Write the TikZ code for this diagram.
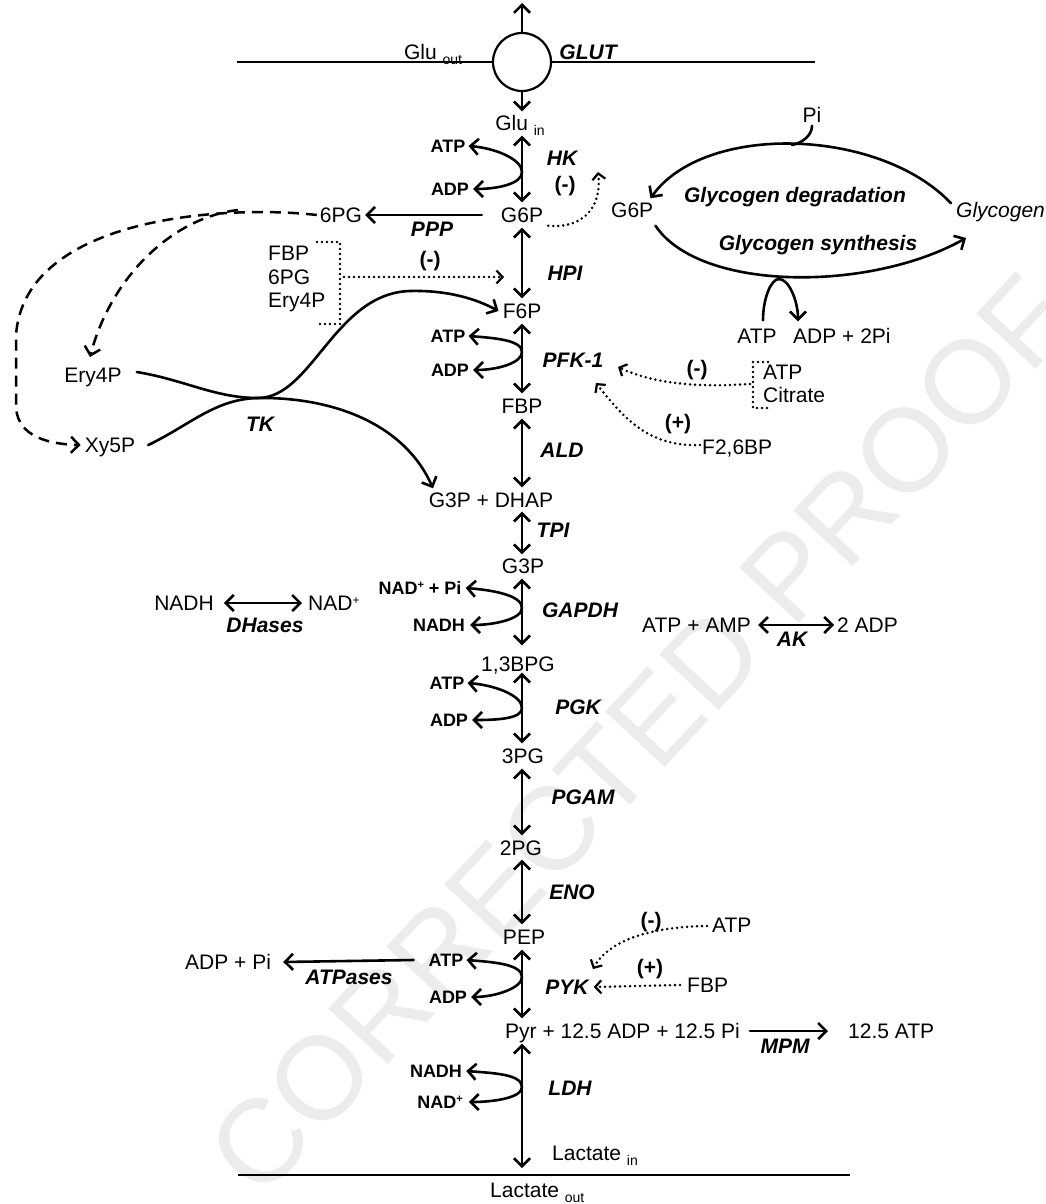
\documentclass[tikz,border=0pt]{standalone}
\usepackage{fontspec}
\setmainfont{Liberation Sans}
\usetikzlibrary{arrows.meta,calc}
\newcommand{\subtxt}[1]{\raisebox{-5pt}{\fontsize{14}{14}\selectfont #1}}
\newcommand{\suptxt}[1]{\raisebox{6pt}{\fontsize{11}{11}\selectfont #1}}
\begin{document}
\begin{tikzpicture}[x=1pt,y=-1pt,
  met/.style={inner sep=0pt,font=\fontsize{21}{24}\selectfont,text height=15pt,text depth=0pt},
  cof/.style={inner sep=0pt,font=\fontsize{18}{20}\selectfont\bfseries,text height=13pt,text depth=0pt},
  enz/.style={inner sep=0pt,font=\fontsize{21}{24}\selectfont\bfseries\itshape,text height=15pt,text depth=0pt},
  sgn/.style={inner sep=0pt,font=\fontsize{21}{24}\selectfont\bfseries,text height=15pt,text depth=0pt},
  ital/.style={inner sep=0pt,font=\fontsize{21}{24}\selectfont\itshape,text height=15pt,text depth=0pt},
  rx/.style={line width=2.6pt,line cap=round,>={Straight Barb[length=8pt,width=16pt]}},
  reg/.style={line width=2.8pt,dash pattern=on 0pt off 5pt,line cap=round,>={Straight Barb[length=6pt,width=13pt,line width=2.2pt]}},
  dsh/.style={line width=2.5pt,dash pattern=on 11pt off 7pt,>={Straight Barb[length=8pt,width=16pt]}},
  memb/.style={line width=2pt}
]
\fill[white] (0,0) rectangle (1046,1204);
\useasboundingbox (0,0) rectangle (1046,1204);
% watermark
\node[rotate=47,text=gray!15,inner sep=0pt,font=\fontsize{118}{118}\selectfont] (wm) at (640,735) {CORRECTED PROOF};

% ---------- top membrane / GLUT ----------
\coordinate (ax) at (522,0);
\coordinate (top) at (522,3);
\coordinate (memL) at (237,62);
\coordinate (memR) at (815,62);
\draw[memb] (memL) -- (memR);
\node[circle,draw,line width=2.2pt,fill=white,minimum size=58pt,inner sep=0pt] (glut) at (522,62) {};
\draw[rx,->] (glut.north) -- (top);
\node[met] (gluout) at (433,52) {Glu \subtxt{out}};
\node[enz] (glutlab) at (588,52) {GLUT};
\node[met] (gluin) at (520,123) {Glu \subtxt{in}};
\draw[rx,->] (glut.south) -- ($(gluin.north -| ax)+(0,-4)$);

% ---------- HK ----------
\node[met] (g6p) at (522,215) {G6P};
\draw[rx,<->] ($(gluin.south -| ax)+(0,5)$) -- ($(g6p.north)+(0,-5)$);
\node[enz] (hk) at (562,158) {HK};
\node[cof] (atp1) at (448,146) {ATP};
\node[cof] (adp1) at (450,189) {ADP};
\coordinate (j1) at (522,172);
\draw[rx,->] (j1) .. controls +(0,-13) and +(26,2) .. ($(atp1.east)+(3,0)$);
\draw[rx,->] (j1) .. controls +(0,12) and +(24,0) .. ($(adp1.east)+(4,0)$);
\node[sgn] (inh1) at (565,184) {(-)};
\coordinate (hkin) at (598,172);
\draw[reg,->] ($(g6p.south east)+(5,3)$) .. controls (585,229) and (602,205) .. (hkin);

% ---------- PPP ----------
\node[met] (pg6) at (341,215) {6PG};
\draw[rx,->] ($(g6p.west)+(-19,0)$) -- ($(pg6.east)+(3,0)$);
\node[enz] (ppp) at (432,229) {PPP};

% ---------- TK side ----------
\node[met] (ery4p) at (93,375) {Ery4P};
\node[met] (xy5p) at (110,445) {Xy5P};
\coordinate (e4tip) at (90,357);
\coordinate (br) at (238,210);
\draw[dsh,->] ($(pg6.west)+(-3,0)$) .. controls (230,205) and (25,215) .. (16,335) -- (16,405) .. controls (16,432) and (40,444) .. ($(xy5p.west)+(-4,0)$);
\draw[dsh,->] (br) .. controls (170,218) and (110,280) .. (e4tip);

% ---------- HPI ----------
\node[met,anchor=west] (fbpr) at (268,253) {FBP};
\node[met,anchor=west] (pg6r) at (268,277) {6PG};
\node[met,anchor=west] (e4pr) at (268,300) {Ery4P};
\coordinate (bk1) at (317,242);
\coordinate (bk2) at (340,242);
\coordinate (bk3) at (340,324);
\coordinate (bk4) at (317,324);
\draw[reg] (bk1) -- (bk2) -- (bk3) -- (bk4);
\coordinate (hpiin) at (504,277);
\draw[reg,->] (344,277) -- (hpiin);
\node[sgn] (inh2) at (430,259) {(-)};
\node[met] (f6p) at (522,311) {F6P};
\draw[rx,<->] ($(g6p.south)+(0,5)$) -- ($(f6p.north)+(0,-5)$);
\node[enz] (hpi) at (565,273) {HPI};

% ---------- PFK-1 ----------
\node[met] (fbp) at (522,406) {FBP};
\draw[rx,<->] ($(f6p.south)+(0,5)$) -- ($(fbp.north)+(0,-5)$);
\node[cof] (atp2) at (448,336) {ATP};
\node[cof] (adp2) at (450,370) {ADP};
\coordinate (j2) at (522,352);
\draw[rx,->] (j2) .. controls +(0,-12) and +(26,2) .. ($(atp2.east)+(3,0)$);
\draw[rx,->] (j2) .. controls +(0,11) and +(24,0) .. ($(adp2.east)+(4,0)$);
\node[enz] (pfk) at (573,360) {PFK-1};
\node[met,anchor=west] (atpr) at (763,372) {ATP};
\node[met,anchor=west] (citr) at (763,395) {Citrate};
\coordinate (bc1) at (768,362);
\coordinate (bc2) at (753,362);
\coordinate (bc3) at (753,408);
\coordinate (bc4) at (768,408);
\draw[reg] (bc1) -- (bc2) -- (bc3) -- (bc4);
\coordinate (pfkin1) at (618,367);
\draw[reg,->] (750,384) .. controls (690,388) and (650,382) .. (pfkin1);
\node[sgn] (inh3) at (697,368) {(-)};
\node[met,anchor=west] (f26) at (702,447) {F2,6BP};
\coordinate (pfkin2) at (596,383);
\draw[reg,->] ($(f26.west)+(-2,-2)$) .. controls (650,447) and (625,420) .. (pfkin2);
\node[sgn] (act1) at (678,422) {(+)};

% ---------- ALD / TPI ----------
\node[met] (g3pdhap) at (491,500) {G3P + DHAP};
\draw[rx,<->] ($(fbp.south)+(0,5)$) -- ($(g3pdhap.north -| ax)+(0,-5)$);
\node[enz] (ald) at (562,450) {ALD};
\node[met] (g3p) at (523,566) {G3P};
\draw[rx,<->] ($(g3pdhap.south -| ax)+(0,4)$) -- ($(g3p.north -| ax)+(0,-4)$);
\node[enz] (tpi) at (553,530) {TPI};

% TK curves
\coordinate (tkj) at (258,398);
\draw[rx,->] ($(ery4p.east)+(15,-3)$) .. controls (185,380) and (215,398) .. (tkj) .. controls (312,398) and (335,293) .. (410,291) .. controls (450,290) and (478,300) .. ($(f6p.west)+(-4,0)$);
\draw[rx,->] ($(xy5p.east)+(13,0)$) .. controls (190,425) and (215,399) .. (tkj) .. controls (335,397) and (405,425) .. ($(g3pdhap.north)+(-58,-4)$);
\node[enz] (tk) at (260,424) {TK};

% ---------- GAPDH ----------
\node[met] (bpg) at (518,664) {1,3BPG};
\draw[rx,<->] ($(g3p.south -| ax)+(0,5)$) -- ($(bpg.north -| ax)+(0,-11)$);
\node[cof] (nadpi) at (420,588) {NAD\suptxt{+} + Pi};
\node[cof] (nadh1) at (439,625) {NADH};
\coordinate (j3) at (522,608);
\draw[rx,->] (j3) .. controls +(0,-13) and +(26,2) .. ($(nadpi.east)+(4,0)$);
\draw[rx,->] (j3) .. controls +(0,11) and +(24,0) .. ($(nadh1.east)+(5,0)$);
\node[enz] (gapdh) at (580,610) {GAPDH};

% DHases
\node[met] (nadhL) at (184,603) {NADH};
\node[met,anchor=west] (nadL) at (308,603) {NAD\raisebox{6pt}{\fontsize{12}{12}\selectfont +}};
\draw[rx,<->] ($(nadhL.east)+(10,0)$) -- ($(nadL.west)+(-6,0)$);
\node[enz] (dhases) at (265,625) {DHases};

% AK
\node[met,anchor=west] (atpamp) at (642,625) {ATP + AMP};
\node[met,anchor=west] (adp2x) at (837,625) {2 ADP};
\draw[rx,<->] ($(atpamp.east)+(7,0)$) -- ($(adp2x.west)+(-3,0)$);
\node[enz] (ak) at (792,639) {AK};

% ---------- PGK ----------
\node[met] (pg3) at (523,756) {3PG};
\draw[rx,<->] ($(bpg.south -| ax)+(0,1)$) -- ($(pg3.north -| ax)+(0,-5)$);
\node[cof] (atp3) at (447,683) {ATP};
\node[cof] (adp3) at (449,720) {ADP};
\coordinate (j4) at (522,708);
\draw[rx,->] (j4) .. controls +(0,-13) and +(26,2) .. ($(atp3.east)+(3,0)$);
\draw[rx,->] (j4) .. controls +(0,11) and +(24,0) .. ($(adp3.east)+(4,0)$);
\node[enz] (pgk) at (578,707) {PGK};

% ---------- PGAM / ENO ----------
\node[met] (pg2) at (521,848) {2PG};
\draw[rx,<->] ($(pg3.south -| ax)+(0,5)$) -- ($(pg2.north -| ax)+(0,-5)$);
\node[enz] (pgam) at (583,797) {PGAM};
\node[met] (pep) at (524,937) {PEP};
\draw[rx,<->] ($(pg2.south -| ax)+(0,4)$) -- ($(pep.north -| ax)+(0,-5)$);
\node[enz] (eno) at (572,892) {ENO};

% ---------- PYK ----------
\node[met,anchor=west] (pyr) at (505,1031) {Pyr + 12.5 ADP + 12.5 Pi};
\draw[rx,<->] ($(pep.south -| ax)+(0,5)$) -- ($(pyr.north -| ax)+(0,-5)$);
\node[cof] (atp4) at (446,960) {ATP};
\node[cof] (adp4) at (448,997) {ADP};
\coordinate (j5) at (522,977);
\draw[rx,->] (j5) .. controls +(0,-13) and +(26,2) .. ($(atp4.east)+(3,0)$);
\draw[rx,->] (j5) .. controls +(0,11) and +(24,0) .. ($(adp4.east)+(4,0)$);
\node[enz] (pyk) at (567,987) {PYK};
\node[met,anchor=west] (atpp) at (712,925) {ATP};
\node[met,anchor=west] (fbpp) at (687,985) {FBP};
\coordinate (pykin) at (593,969);
\draw[reg,->] ($(atpp.west)+(-5,1)$) .. controls (640,927) and (606,945) .. (pykin);
\draw[reg,->] ($(fbpp.west)+(-7,0)$) -- ($(pyk.east)+(5,0)$);
\node[sgn] (inh4) at (651,920) {(-)};
\node[sgn] (act2) at (650,967) {(+)};
\node[met,anchor=west] (adppi) at (185,962) {ADP + Pi};
\draw[rx,->] ($(atp4.west)+(-15,0)$) -- ($(adppi.east)+(12,0)$);
\node[enz] (atpases) at (349,977) {ATPases};

% MPM
\node[met,anchor=west] (atp125) at (848,1031) {12.5 ATP};
\draw[rx,->] ($(pyr.east)+(10,0)$) -- ($(atp125.west)+(-20,0)$);
\node[enz] (mpm) at (785,1046) {MPM};

% ---------- LDH ----------
\coordinate (lacm) at (522,1168);
\draw[rx,<->] ($(pyr.south -| ax)+(0,5)$) -- (lacm);
\node[cof] (nadh2) at (436,1071) {NADH};
\node[cof] (nad2) at (440,1102) {NAD\suptxt{+}};
\coordinate (j6) at (522,1087);
\draw[rx,->] (j6) .. controls +(0,-13) and +(26,2) .. ($(nadh2.east)+(4,0)$);
\draw[rx,->] (j6) .. controls +(0,11) and +(24,0) .. ($(nad2.east)+(6,0)$);
\node[enz] (ldh) at (570,1088) {LDH};
\node[met,anchor=west] (lacin) at (552,1153) {Lactate \subtxt{in}};
\coordinate (memL2) at (238,1175);
\coordinate (memR2) at (850,1175);
\draw[memb] (memL2) -- (memR2);
\node[met,anchor=west] (lacout) at (490,1190) {Lactate \subtxt{out}};

% ---------- Glycogen cycle ----------
\node[met,anchor=west] (g6pR) at (611,210) {G6P};
\node[ital,anchor=west] (glyc) at (956,210) {Glycogen};
\node[enz] (gdeg) at (795,195) {Glycogen degradation};
\node[enz] (gsyn) at (818,243) {Glycogen synthesis};
\node[met] (piG) at (812,115) {Pi};
\coordinate (topjoin) at (792,145);
\draw[rx,->] ($(glyc.north west)+(-5,1)$) .. controls (880,128) and (705,122) .. ($(g6pR.north east)+(-3,-4)$);
\draw[rx] ($(piG.south)+(0,3)$) .. controls +(0,10) and +(10,-2) .. (topjoin);
\draw[rx,->] ($(g6pR.south east)+(2,8)$) .. controls (700,292) and (870,292) .. (966,238);
\node[met] (atpG) at (757,336) {ATP};
\node[met,anchor=west] (adpG) at (793,336) {ADP + 2Pi};
\coordinate (synj) at (779,279);
\draw[rx] ($(atpG.north)+(6,-8)$) .. controls +(0,-22) and +(-8,0) .. (synj);
\draw[rx,->] (synj) .. controls +(10,0) and +(0,-20) .. ($(adpG.north west)+(5,-7)$);
\end{tikzpicture}
\end{document}
